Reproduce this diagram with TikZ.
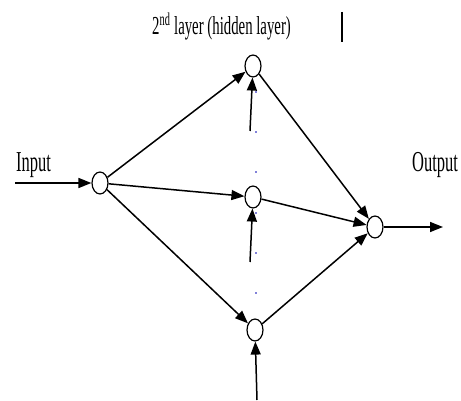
\documentclass[tikz,border=0pt]{standalone}
\usepackage{fontspec}
\usepackage{graphicx}
\setmainfont{Liberation Serif}
\usetikzlibrary{arrows.meta,shapes.geometric}
\begin{document}
\begin{tikzpicture}[x=1pt,y=-1pt,
  neuron/.style={draw, line width=1.2pt, ellipse, minimum width=16pt, minimum height=22pt, inner sep=0pt},
  conn/.style={line width=1.5pt, -{Triangle[length=13pt,width=10pt]}},
  lbl/.style={font=\fontsize{16.5}{18}\selectfont, inner sep=0pt, anchor=base west},
  dot/.style={circle, fill=blue!70!black, inner sep=0pt, minimum size=1.8pt}]
\useasboundingbox (0,0) rectangle (461,401);
\node[neuron] (in) at (100,183) {};
\node[neuron] (h1) at (253,66) {};
\node[neuron] (h2) at (253,197) {};
\node[neuron] (h3) at (255,330) {};
\node[neuron] (out) at (375,227) {};
\coordinate (s) at (15,183);
\coordinate (e) at (443,227);
\coordinate (b1) at (250,131);
\coordinate (b2) at (250,262);
\coordinate (b3) at (257,400);
\draw[conn] (s) -- (in);
\draw[conn] (in) -- (h1);
\draw[conn] (in) -- (h2);
\draw[conn] (in) -- (h3);
\draw[conn] (h1) -- (out);
\draw[conn] (h2) -- (out);
\draw[conn] (h3) -- (out);
\draw[conn] (out) -- (e);
\draw[conn] (b1) -- (h1);
\draw[conn] (b2) -- (h2);
\draw[conn] (b3) -- (h3);
\node[lbl] (tin) at (16,172) {\scalebox{1}[1.75]{Input}};
\node[lbl] (tout) at (412,172) {\scalebox{1}[1.75]{Output}};
\node[lbl, font=\fontsize{14.8}{17}\selectfont] (title) at (152,35) {\scalebox{1}[1.75]{2\textsuperscript{nd} layer (hidden layer)}};
\coordinate (bar1) at (342,12);
\coordinate (bar2) at (342,42);
\draw[line width=2.2pt] (bar1) -- (bar2);
\foreach \y [count=\i] in {92,132,172,213,253,293} \node[dot] (d\i) at (256,\y) {};
\end{tikzpicture}
\end{document}
